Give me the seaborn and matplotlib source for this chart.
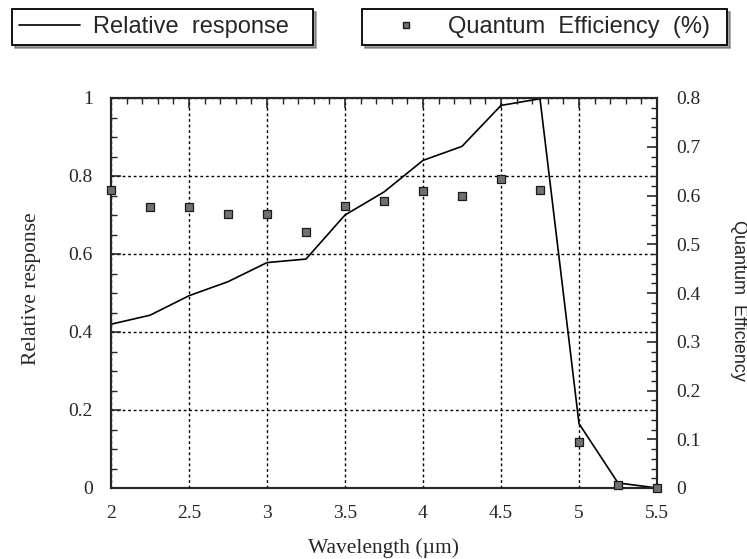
import numpy as np
import pandas as pd
import matplotlib
matplotlib.use("Agg")
import matplotlib.pyplot as plt
from matplotlib.ticker import MultipleLocator
from matplotlib.lines import Line2D
from matplotlib.font_manager import FontProperties
import seaborn as sns

# wavelength grid (um)
wavelength = [2.0, 2.25, 2.5, 2.75, 3.0, 3.25, 3.5, 3.75, 4.0, 4.25, 4.5, 4.75, 5.0, 5.25, 5.5]
# relative response (left axis)
rel_response = [0.42, 0.443, 0.493, 0.529, 0.578, 0.587, 0.700, 0.759, 0.840, 0.876, 0.981, 0.998, 0.165, 0.013, 0.0]
# quantum efficiency (right axis)
quantum_eff = [0.612, 0.577, 0.577, 0.562, 0.563, 0.526, 0.579, 0.588, 0.610, 0.599, 0.634, 0.612, 0.0945, 0.0055, 0.0]

x_ticks = [2, 2.5, 3, 3.5, 4, 4.5, 5, 5.5]
x_labels = ["2", "2.5", "3", "3.5", "4", "4.5", "5", "5.5"]
left_ticks = [0, 0.2, 0.4, 0.6, 0.8, 1.0]
left_labels = ["0", "0.2", "0.4", "0.6", "0.8", "1"]
right_ticks = [0, 0.1, 0.2, 0.3, 0.4, 0.5, 0.6, 0.7, 0.8]
right_labels = ["0", "0.1", "0.2", "0.3", "0.4", "0.5", "0.6", "0.7", "0.8"]

df = pd.DataFrame({"wl": wavelength, "rel": rel_response, "qe": quantum_eff})

sns.set_style("white")
serif = ["Liberation Serif", "DejaVu Serif"]
sans = ["Liberation Sans", "DejaVu Sans"]
plt.rcParams["font.family"] = serif
plt.rcParams["xtick.direction"] = "in"
plt.rcParams["ytick.direction"] = "in"

fig = plt.figure(figsize=(7.47, 5.59), dpi=100)
ax = fig.add_axes([111 / 747, 1 - 488 / 559, 546 / 747, 390 / 559])
ax2 = ax.twinx()

sns.lineplot(data=df, x="wl", y="rel", ax=ax, color="black", linewidth=1.2, zorder=3)
sns.scatterplot(data=df, x="wl", y="qe", ax=ax2, marker="s", s=28, color="#707070",
                edgecolor="#1a1a1a", linewidth=0.9, zorder=4, clip_on=False)

ax.set_xlim(2, 5.5)
ax.set_ylim(0, 1)
ax2.set_ylim(0, 0.8)

ax.set_xticks(x_ticks)
ax.set_xticklabels(x_labels)
ax.set_yticks(left_ticks)
ax.set_yticklabels(left_labels)
ax2.set_yticks(right_ticks)
ax2.set_yticklabels(right_labels)
ax.xaxis.set_minor_locator(MultipleLocator(0.1))
ax.yaxis.set_minor_locator(MultipleLocator(0.05))
ax2.yaxis.set_minor_locator(MultipleLocator(0.02))

ax.tick_params(which="major", length=7, width=1.2, labelsize=14, top=True)
ax.tick_params(which="minor", length=4, width=1, top=True)
ax.tick_params(axis="x", which="major", pad=12)
ax.tick_params(axis="y", which="major", pad=13)
ax.tick_params(axis="y", which="both", right=False)
ax2.tick_params(which="major", length=7, width=1.2, labelsize=14, pad=14)
ax2.tick_params(which="minor", length=4, width=1)

ax.grid(True, which="major", color="black", linestyle=(0, (2, 2)), linewidth=1)
for sp in list(ax.spines.values()) + list(ax2.spines.values()):
    sp.set_linewidth(1.5)

ax.set_xlabel("Wavelength (\u00b5m)", fontsize=15.5)
ax.xaxis.set_label_coords(0.5, -0.128)
ax.set_ylabel("Relative response", fontsize=15.5)
ax.yaxis.set_label_coords(-0.128, 0.51)
ax2.set_ylabel("Quantum  Efficiency", rotation=270, va="center")
ax2.yaxis.label.set_fontproperties(FontProperties(family=sans, size=13))
ax2.yaxis.set_label_coords(1.15, 0.48)

leg_font = FontProperties(family=sans, size=17)
h1 = Line2D([], [], color="black", linewidth=1.2)
h2 = Line2D([], [], linestyle="none", marker="s", markersize=5, markerfacecolor="#707070",
            markeredgecolor="#1a1a1a")
leg1 = fig.legend([h1], ["Relative  response"], loc="upper left",
                  bbox_to_anchor=(12 / 747, 0, 301 / 747, 1 - 9 / 559), mode="expand",
                  prop=leg_font, frameon=True, shadow=True, fancybox=False,
                  handlelength=2.6, handletextpad=0.55, borderpad=0.3, borderaxespad=0,
                  edgecolor="black")
leg1.get_frame().set_linewidth(1.3)
leg2 = fig.legend([h2], ["Quantum  Efficiency  (%)"], loc="upper left",
                  bbox_to_anchor=(362 / 747, 0, 365 / 747, 1 - 9 / 559), mode="expand",
                  prop=leg_font, frameon=True, shadow=True, fancybox=False,
                  handlelength=3.1, handletextpad=0.25, borderpad=0.3, borderaxespad=0,
                  edgecolor="black")
leg2.get_frame().set_linewidth(1.3)

fig.savefig("out.png", dpi=100)
